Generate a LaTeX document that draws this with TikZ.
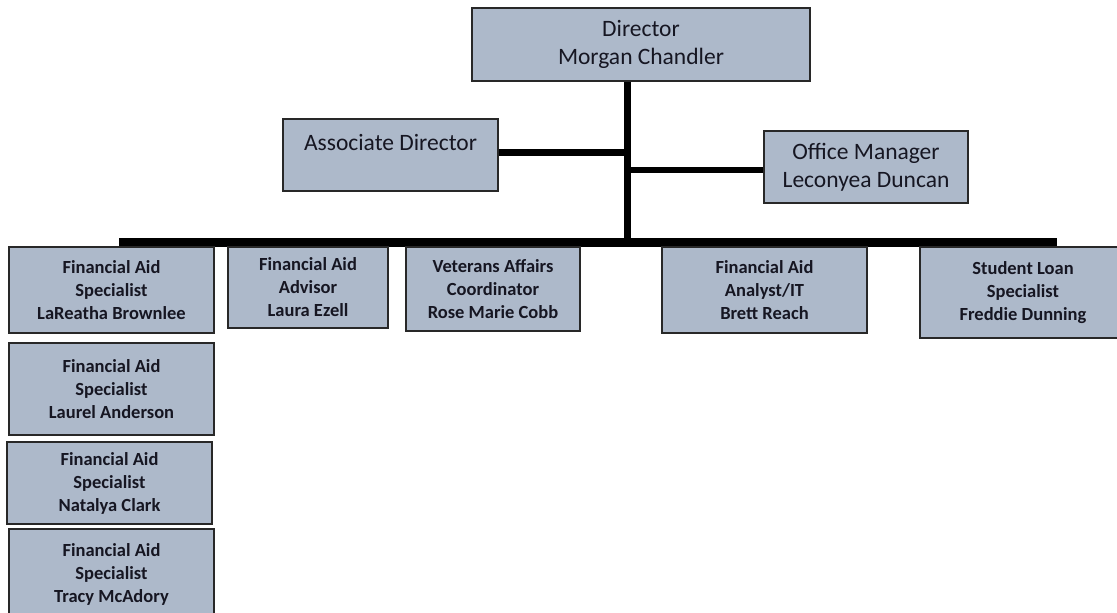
\documentclass[tikz,border=0pt]{standalone}
\usepackage{fontspec}
\setmainfont{Carlito}
\definecolor{boxfill}{RGB}{173,185,202}
\definecolor{boxline}{RGB}{40,40,40}
\definecolor{boxtext}{RGB}{22,22,34}

\begin{document}
\begin{tikzpicture}[x=1pt,y=-1pt,
  head/.style={draw=boxline, line width=1.6pt, fill=boxfill, text=boxtext, align=center,
    inner sep=0pt, font=\fontsize{23.5}{28}\selectfont},
  staff/.style={draw=boxline, line width=1.6pt, fill=boxfill, text=boxtext, align=center,
    inner sep=0pt, font=\fontsize{18.5}{23}\selectfont\bfseries},
  link/.style={line width=7pt}]
\useasboundingbox (0,0) rectangle (1117,613);

% Draw the top of the office
\node[head, minimum width=338pt, minimum height=73pt] (dir) at (641,44.5) {Director\\Morgan Chandler};
\node[head, minimum width=215pt, minimum height=72pt, text height=17pt, text depth=26pt] (assoc) at (390.5,155) {Associate Director};
\node[head, minimum width=204pt, minimum height=72pt] (office) at (866,167) {Office Manager\\Leconyea Duncan};

% Draw the trunk and the bus
\coordinate (busL) at (119,242.5);
\coordinate (busR) at (1057,242.5);
\coordinate (joint) at (627,242.5);
\draw[link] (joint |- dir.south) -- (joint);
\draw[link, line width=9pt] (busL) -- (busR);
\draw[link] ([yshift=3pt]assoc.east) -- ([yshift=3pt]assoc.east -| joint);
\draw[link, line width=6pt] ([yshift=-3pt]office.west) -- ([yshift=-3pt]office.west -| joint);

% Draw the staff boxes under the bus
\node[staff, minimum width=205pt, minimum height=86pt] (brownlee) at (111.5,290) {Financial Aid\\Specialist\\LaReatha Brownlee};
\node[staff, minimum width=160pt, minimum height=81pt] (ezell) at (308,287.5) {Financial Aid\\Advisor\\Laura Ezell};
\node[staff, minimum width=174pt, minimum height=84pt] (cobb) at (493,289) {Veterans Affairs\\Coordinator\\Rose Marie Cobb};
\node[staff, minimum width=205pt, minimum height=86pt] (reach) at (764.5,290) {Financial Aid\\Analyst/IT\\Brett Reach};
\node[staff, minimum width=206pt, minimum height=91pt] (dunning) at (1023,292.5) {Student Loan\\Specialist\\Freddie Dunning};

% Draw the column of specialists
\node[staff, minimum width=205pt, minimum height=92pt] (anderson) at (111.5,389) {Financial Aid\\Specialist\\Laurel Anderson};
\node[staff, minimum width=205pt, minimum height=82pt] (clark) at (109.5,483) {Financial Aid\\Specialist\\Natalya Clark};
\node[staff, minimum width=205pt, minimum height=90pt] (mcadory) at (111.5,574) {Financial Aid\\Specialist\\Tracy McAdory};
\end{tikzpicture}
\end{document}
